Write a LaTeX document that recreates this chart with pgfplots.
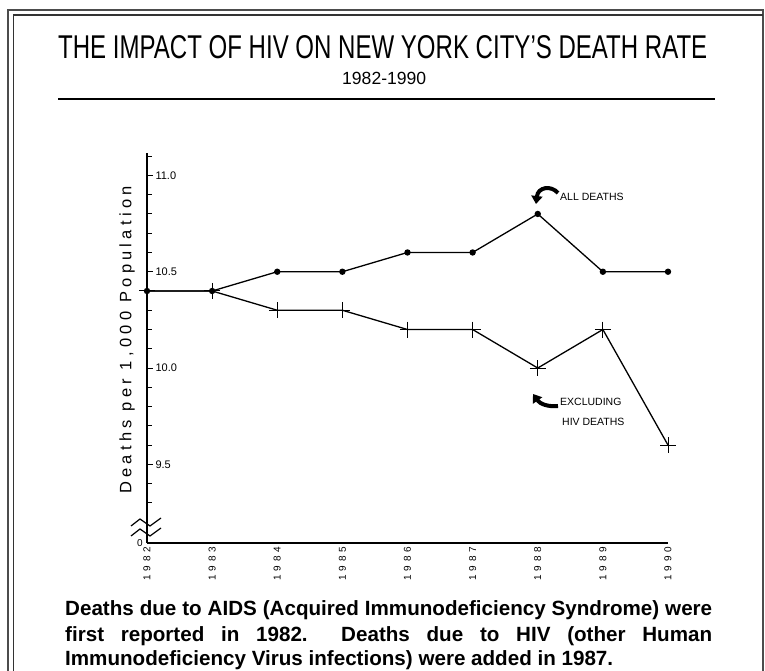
\documentclass[border=0pt]{standalone}
\usepackage{pgfplots}
\pgfplotsset{compat=1.18}
\usepackage{fontspec}
\usepackage{graphicx}
\usetikzlibrary{arrows.meta}
\setmainfont{Liberation Sans}
\newfontfamily\ylabfont[LetterSpace=26]{Liberation Sans}
\newfontfamily\xtickfont[LetterSpace=40]{Liberation Sans}
\begin{document}
\begin{tikzpicture}[x=1pt,y=1pt]
\useasboundingbox (0,0) rectangle (765,671);
\clip (0,0) rectangle (765,671);
\fill[white] (0,0) rectangle (765,671);
% frame
\draw[black!70, line width=1.6pt] (8,-5) -- (8,661) -- (763,661) -- (763,-5);
\draw[black!80, line width=1.2pt] (13.5,-5) -- (13.5,656) -- (763,656);
% title
\node[anchor=base west, inner sep=0] at (58,612) {\resizebox{649pt}{23pt}{THE IMPACT OF HIV ON NEW YORK CITY'S DEATH RATE}};
\node[anchor=base west, inner sep=0] at (342,586) {\resizebox{84pt}{12.3pt}{1982-1990}};
\draw[line width=2pt] (58,572) -- (715,572);
\begin{axis}[
  at={(147pt,128pt)}, anchor=south west,
  scale only axis, width=521pt, height=390pt,
  xmin=1982, xmax=1990, ymin=9.0916, ymax=11.1165,
  axis lines*=left,
  axis line style={line width=1.5pt},
  x axis line style={line width=2pt},
  clip=false,
  tick align=inside,
  xtick={1982,1983,1984,1985,1986,1987,1988,1989,1990},
  xticklabels={1982,1983,1984,1985,1986,1987,1988,1989,1990},
  xtick style={draw=none},
  xticklabel style={rotate=90, anchor=east, font=\xtickfont\fontsize{10}{11}\selectfont},
  ytick={9.5,10,10.5,11},
  yticklabels={9.5,10.0,10.5,11.0},
  minor ytick={9.3,9.4,9.5,9.6,9.7,9.8,9.9,10.0,10.1,10.2,10.3,10.4,10.5,10.6,10.7,10.8,10.9,11.0,11.1},
  ytick style={line width=1pt, black},
  major tick length=6pt, minor tick length=5pt,
  yticklabel style={anchor=west, xshift=5pt, font=\fontsize{11}{12}\selectfont},
  /pgf/number format/assume math mode=true,
]
\addplot[black, line width=1.3pt, mark=*, mark size=2.5pt] coordinates {
(1982,10.4) (1983,10.4) (1984,10.5) (1985,10.5) (1986,10.6) (1987,10.6) (1988,10.8) (1989,10.5) (1990,10.5)};
\addplot[black, line width=1.3pt, mark=+, mark size=8pt, mark options={line width=1pt}] coordinates {
(1982,10.4) (1983,10.4) (1984,10.3) (1985,10.3) (1986,10.2) (1987,10.2) (1988,10.0) (1989,10.2) (1990,9.6)};
\end{axis}
% y label
\node[rotate=90, inner sep=0] at (127,331) {\ylabfont\fontsize{16.5}{18}\selectfont Deaths per 1,000 Population};
% zero label and axis break
\node[inner sep=0] at (140,128) {\fontsize{10}{11}\selectfont 0};
\draw[line width=1.2pt] (131,145) -- (140,152) -- (150,145) -- (161,153);
\draw[line width=1.2pt] (131,135) -- (140,142) -- (150,135) -- (161,143);
% annotations
\node[anchor=west, inner sep=0] at (560,474) {\fontsize{10.5}{12}\selectfont ALL DEATHS};
\node[anchor=west, inner sep=0] at (560,269) {\fontsize{10.5}{12}\selectfont EXCLUDING};
\node[anchor=west, inner sep=0] at (562,249) {\fontsize{10.5}{12}\selectfont HIV DEATHS};
\draw[line width=4pt, -{Triangle[width=11pt,length=8pt]}] (558,478) .. controls (551,486) and (538,484) .. (536,467);
\draw[line width=4pt, -{Triangle[width=11pt,length=8pt]}] (558,265) .. controls (548,264) and (540,267) .. (533,277);
% caption
\node[anchor=base west, inner sep=0] at (65,55) {\bfseries\fontsize{20.6}{26}\selectfont\hbox to 647pt{Deaths\hfill due\hfill to\hfill AIDS\hfill (Acquired\hfill Immunodeficiency\hfill Syndrome)\hfill were}};
\node[anchor=base west, inner sep=0] at (65,29.5) {\bfseries\fontsize{20.6}{26}\selectfont\hbox to 647pt{first\hfill reported\hfill in\hfill 1982.\hfill\hfill Deaths\hfill due\hfill to\hfill HIV\hfill (other\hfill Human}};
\node[anchor=base west, inner sep=0] at (65,5) {\bfseries\fontsize{20.6}{26}\selectfont Immunodeficiency Virus infections) were added in 1987.};
\end{tikzpicture}
\end{document}
